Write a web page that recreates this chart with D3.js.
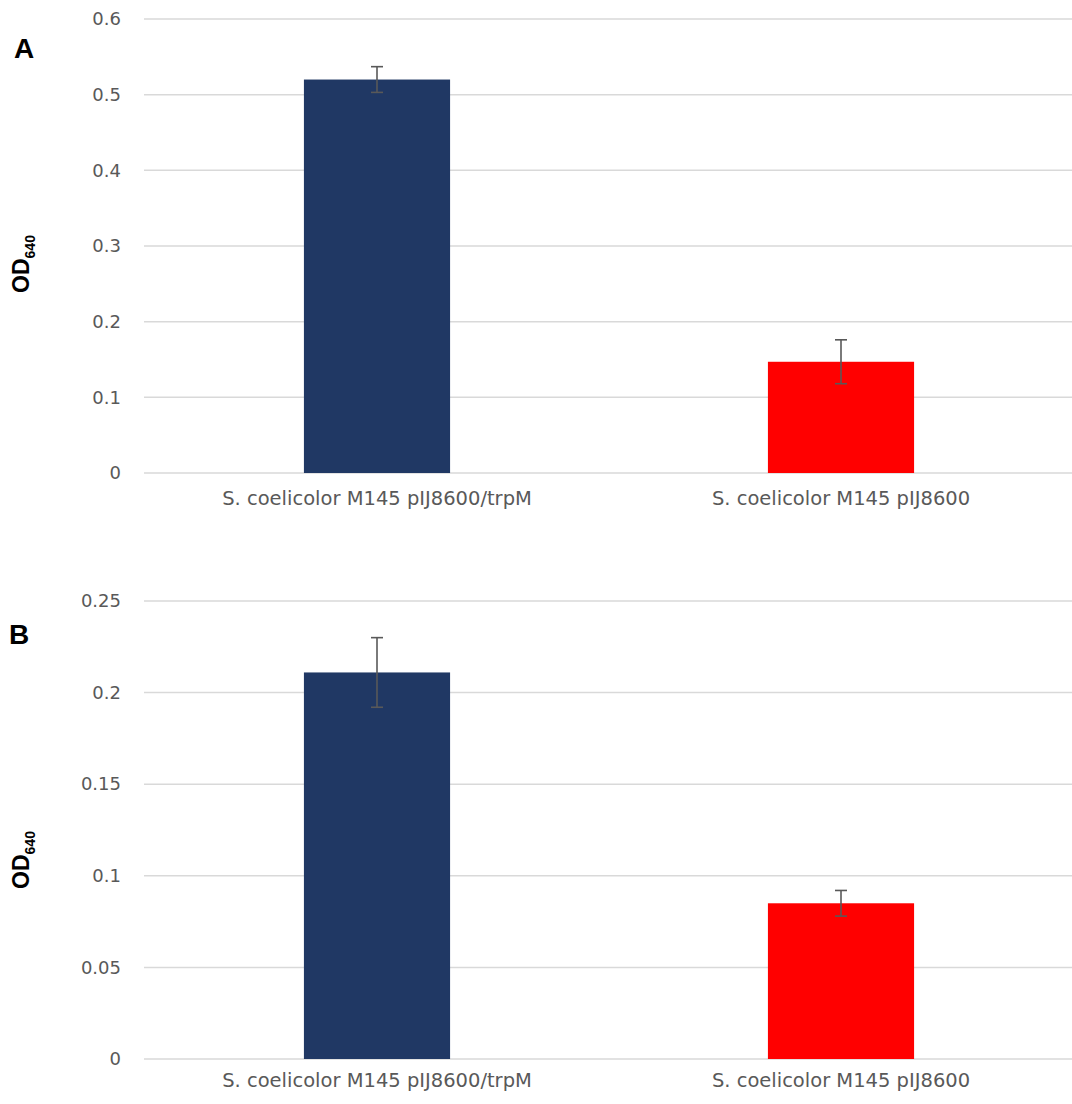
<!DOCTYPE html>
<html>
<head>
<meta charset="utf-8">
<script src="https://cdn.jsdelivr.net/npm/d3@7"></script>
<style>
  html, body { margin: 0; padding: 0; background: #fff; }
  svg { display: block; }
</style>
</head>
<body>
<svg id="chart" width="1072" height="1104"></svg>
<script>
// Strains compared in both panels
const strains = ["S. coelicolor M145 pIJ8600/trpM", "S. coelicolor M145 pIJ8600"];
const barColors = ["#203864", "#FF0000"];

// Panel A: OD640 means and error
const odA = [0.52, 0.147];
const errA = [0.017, 0.029];
const ticksA = [0, 0.1, 0.2, 0.3, 0.4, 0.5, 0.6];

// Panel B: OD640 means and error
const odB = [0.211, 0.085];
const errB = [0.019, 0.007];
const ticksB = [0, 0.05, 0.1, 0.15, 0.2, 0.25];

const svg = d3.select("#chart");
const fontFamily = "'DejaVu Sans', 'Open Sans', sans-serif";
const boldFamily = "'Liberation Sans', Arial, sans-serif";

function drawPanel(cfg) {
  const g = svg.append("g");
  const x = d3.scaleBand()
    .domain(strains)
    .range([145, 1073])
    .paddingInner(0.685)
    .paddingOuter(0.3425);
  const y = d3.scaleLinear()
    .domain([0, cfg.max])
    .range([cfg.bottom, cfg.top]);

  // horizontal gridlines
  g.append("g")
    .selectAll("line")
    .data(cfg.ticks)
    .join("line")
    .attr("x1", 144).attr("x2", 1072)
    .attr("y1", d => y(d)).attr("y2", d => y(d))
    .attr("stroke", "#d9d9d9")
    .attr("stroke-width", 1.5);

  // y axis tick labels
  const yAxis = d3.axisLeft(y)
    .tickValues(cfg.ticks)
    .tickFormat(d => String(+d.toFixed(2)))
    .tickSize(0)
    .tickPadding(0);
  const ya = g.append("g")
    .attr("transform", "translate(121,0)")
    .call(yAxis);
  ya.select(".domain").remove();
  ya.selectAll("text")
    .attr("font-family", fontFamily)
    .attr("font-size", 18)
    .attr("fill", "#595959");

  // bars
  g.append("g")
    .selectAll("rect")
    .data(cfg.values)
    .join("rect")
    .attr("x", (d, i) => x(strains[i]))
    .attr("width", x.bandwidth())
    .attr("y", d => y(d))
    .attr("height", d => y(0) - y(d))
    .attr("fill", (d, i) => barColors[i]);

  // error bars
  const eb = g.append("g")
    .attr("stroke", "#595959")
    .attr("stroke-width", 1.6);
  cfg.values.forEach((v, i) => {
    const cx = x(strains[i]) + x.bandwidth() / 2;
    const y1 = y(v + cfg.err[i]), y2 = y(v - cfg.err[i]);
    eb.append("line").attr("x1", cx).attr("x2", cx).attr("y1", y1).attr("y2", y2);
    eb.append("line").attr("x1", cx - 6).attr("x2", cx + 6).attr("y1", y1).attr("y2", y1);
    eb.append("line").attr("x1", cx - 6).attr("x2", cx + 6).attr("y1", y2).attr("y2", y2);
  });

  // category labels
  const xAxis = d3.axisBottom(x).tickSize(0).tickPadding(0);
  const xa = g.append("g")
    .attr("transform", `translate(0,${cfg.bottom + cfg.labelOffset})`)
    .call(xAxis);
  xa.select(".domain").remove();
  xa.selectAll("text")
    .attr("dy", 0)
    .attr("font-family", fontFamily)
    .attr("font-size", 19.5)
    .attr("fill", "#595959");

  // y axis title: OD with subscript 640
  const title = g.append("text")
    .attr("transform", `translate(29,${cfg.titleY}) rotate(-90)`)
    .attr("text-anchor", "middle")
    .attr("font-family", boldFamily)
    .attr("font-weight", "bold")
    .attr("font-size", 23)
    .attr("fill", "#000");
  title.append("tspan").text("OD");
  title.append("tspan").attr("dy", 6).attr("font-size", 14).text("640");

  // panel letter
  g.append("text")
    .attr("x", cfg.letterX).attr("y", cfg.letterY)
    .attr("font-family", boldFamily)
    .attr("font-weight", "bold")
    .attr("font-size", 28)
    .attr("fill", "#000")
    .text(cfg.letter);
}

drawPanel({ values: odA, err: errA, ticks: ticksA, max: 0.6, top: 19, bottom: 473,
  labelOffset: 32, titleY: 264, letter: "A", letterX: 14, letterY: 58 });
drawPanel({ values: odB, err: errB, ticks: ticksB, max: 0.25, top: 601, bottom: 1059,
  labelOffset: 28, titleY: 860, letter: "B", letterX: 9, letterY: 644 });
</script>
</body>
</html>
